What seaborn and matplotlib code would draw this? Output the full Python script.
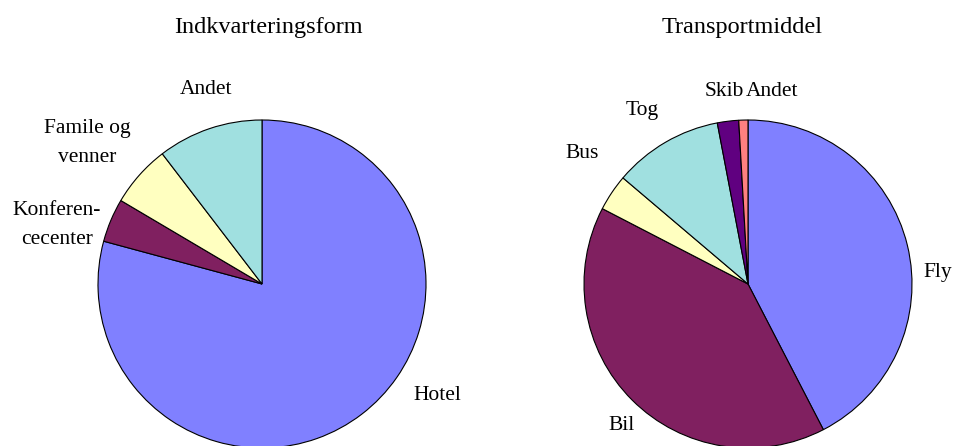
import matplotlib
matplotlib.use("Agg")
import matplotlib.pyplot as plt
import seaborn as sns

# Data (shares in %)
lodging_labels = ["Hotel", "Konferen-\ncecenter", "Famile og\nvenner", "Andet"]
lodging_share = [79.2, 4.3, 6.1, 10.4]

transport_labels = ["Fly", "Bil", "Bus", "Tog", "Skib", "Andet"]
transport_share = [42.4, 40.2, 3.6, 10.8, 2.1, 0.9]

colors = ["#8080FF", "#802060", "#FFFFC0", "#A0E0E0", "#600080", "#FF8080"]

sns.set_theme(style="white")
plt.rcParams["font.family"] = ["Liberation Serif", "DejaVu Serif"]
plt.rcParams["text.color"] = "black"

W, H = 954, 446
fig = plt.figure(figsize=(W / 100, H / 100), dpi=100)
ax = fig.add_axes([0, 0, 1, 1])

R = 164
wedge_style = dict(edgecolor="black", linewidth=0.8)

ax.pie(lodging_share, colors=colors[:4], startangle=90, counterclock=False,
       radius=R, center=(262, H - 284), wedgeprops=wedge_style, frame=True)
ax.pie(transport_share, colors=colors, startangle=90, counterclock=False,
       radius=R, center=(748, H - 284), wedgeprops=wedge_style, frame=True)

ax.set_xlim(0, W)
ax.set_ylim(0, H)
ax.set_aspect("equal")
ax.axis("off")

# label positions (pixel, from top-left), centered text
lodging_pos = [(437, 395), (57, 225), (87, 143), (206, 90)]
transport_pos = [(938, 273), (622, 426), (582, 153), (642, 111), (724, 92), (772, 92)]

for lab, (x, y) in zip(lodging_labels, lodging_pos):
    ax.text(x, H - y, lab, ha="center", va="center", fontsize=15.5,
            linespacing=1.65)
for lab, (x, y) in zip(transport_labels, transport_pos):
    ax.text(x, H - y, lab, ha="center", va="center", fontsize=15.5)

ax.text(268, H - 27, "Indkvarteringsform", ha="center", va="center", fontsize=17.5)
ax.text(742, H - 27, "Transportmiddel", ha="center", va="center", fontsize=17.5)

fig.savefig("out.png", dpi=100)
